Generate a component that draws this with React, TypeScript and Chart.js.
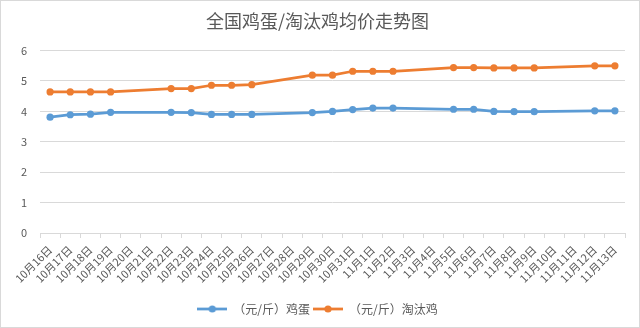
import React, { useEffect, useRef } from "react";
import { Chart, registerables } from "chart.js";

Chart.register(...registerables);

const categories = [
  "10月16日", "10月17日", "10月18日", "10月19日", "10月20日", "10月21日", "10月22日",
  "10月23日", "10月24日", "10月25日", "10月26日", "10月27日", "10月28日", "10月29日",
  "10月30日", "10月31日", "11月1日", "11月2日", "11月3日", "11月4日", "11月5日",
  "11月6日", "11月7日", "11月8日", "11月9日", "11月10日", "11月11日", "11月12日", "11月13日",
];

const eggPrices = [
  3.81, 3.89, 3.91, 3.97, null, null, 3.97,
  3.96, 3.9, 3.9, 3.9, null, null, 3.96,
  4.0, 4.06, 4.11, 4.11, null, null, 4.07,
  4.07, 4.0, 3.99, 3.99, null, null, 4.02, 4.02,
];

const henPrices = [
  4.64, 4.64, 4.64, 4.64, null, null, 4.75,
  4.75, 4.86, 4.86, 4.88, null, null, 5.19,
  5.19, 5.32, 5.32, 5.32, null, null, 5.44,
  5.44, 5.43, 5.43, 5.43, null, null, 5.5, 5.5,
];

const seriesNames = ["（元/斤）鸡蛋", "（元/斤）淘汰鸡"];
const seriesColors = ["#5B9BD5", "#ED7D31"];
const titleText = "全国鸡蛋/淘汰鸡均价走势图";

const FONT = "'Noto Sans CJK SC', 'Noto Sans', sans-serif";

function makeMarker(color: string): HTMLCanvasElement {
  const c = document.createElement("canvas");
  c.width = 30;
  c.height = 10;
  const ctx = c.getContext("2d")!;
  ctx.strokeStyle = color;
  ctx.lineWidth = 2.75;
  ctx.beginPath();
  ctx.moveTo(0, 5);
  ctx.lineTo(30, 5);
  ctx.stroke();
  ctx.fillStyle = color;
  ctx.beginPath();
  ctx.arc(15, 5, 3.6, 0, Math.PI * 2);
  ctx.fill();
  return c;
}

export default function App() {
  const ref = useRef<HTMLCanvasElement | null>(null);

  useEffect(() => {
    document.body.style.margin = "0";
    const markers = seriesColors.map(makeMarker);
    const borderPlugin = {
      id: "outerBorder",
      afterDraw(chart: any) {
        const ctx = chart.ctx;
        ctx.save();
        ctx.strokeStyle = "#d9d9d9";
        ctx.lineWidth = 1;
        ctx.strokeRect(0.5, 0.5, chart.width - 1, chart.height - 1);
        ctx.restore();
      },
    };
    const chart = new Chart(ref.current!, {
      type: "line",
      data: {
        labels: categories,
        datasets: [eggPrices, henPrices].map((d, i) => ({
          label: seriesNames[i],
          data: d,
          borderColor: seriesColors[i],
          backgroundColor: seriesColors[i],
          borderWidth: 2.75,
          pointRadius: 3.6,
          pointHoverRadius: 3.6,
          pointBorderWidth: 0,
          spanGaps: true,
          tension: 0,
        })),
      },
      options: {
        animation: false,
        responsive: false,
        maintainAspectRatio: false,
        layout: { padding: { left: 10, right: 15, top: 0, bottom: 3 } },
        plugins: {
          title: {
            display: true,
            text: titleText,
            color: "#595959",
            font: { family: FONT, size: 18, weight: "normal" },
            padding: { top: 10, bottom: 19 },
          },
          legend: {
            position: "bottom",
            labels: {
              color: "#595959",
              font: { family: FONT, size: 12 },
              usePointStyle: true,
              pointStyleWidth: 30,
              boxHeight: 10,
              padding: 3,
              generateLabels(chart: any) {
                return chart.data.datasets.map((ds: any, i: number) => ({
                  text: ds.label,
                  fillStyle: ds.borderColor,
                  strokeStyle: ds.borderColor,
                  lineWidth: 0,
                  pointStyle: markers[i],
                  datasetIndex: i,
                  hidden: false,
                  fontColor: "#595959",
                }));
              },
            },
          },
          tooltip: { enabled: false },
        },
        scales: {
          x: {
            offset: true,
            grid: {
              offset: true,
              drawOnChartArea: false,
              drawTicks: true,
              tickLength: 5,
              color: "#d9d9d9",
            },
            border: { display: true, color: "#d9d9d9" },
            ticks: {
              autoSkip: false,
              maxRotation: 45,
              minRotation: 45,
              color: "#595959",
              font: { family: FONT, size: 11 },
              padding: 5,
            },
            afterFit(scale: any) {
              scale.height = 67;
            },
          },
          y: {
            min: 0,
            max: 6,
            ticks: {
              stepSize: 1,
              color: "#595959",
              font: { family: FONT, size: 11 },
              padding: 13,
            },
            grid: { color: "#d9d9d9", drawTicks: false },
            border: { display: false },
            afterFit(scale: any) {
              scale.width = 30;
            },
          },
        },
      },
      plugins: [borderPlugin],
    });
    return () => chart.destroy();
  }, []);

  return (
    <div style={{ width: 640, height: 328 }}>
      <canvas ref={ref} width={640} height={328} style={{ display: "block", width: 640, height: 328 }} />
    </div>
  );
}
